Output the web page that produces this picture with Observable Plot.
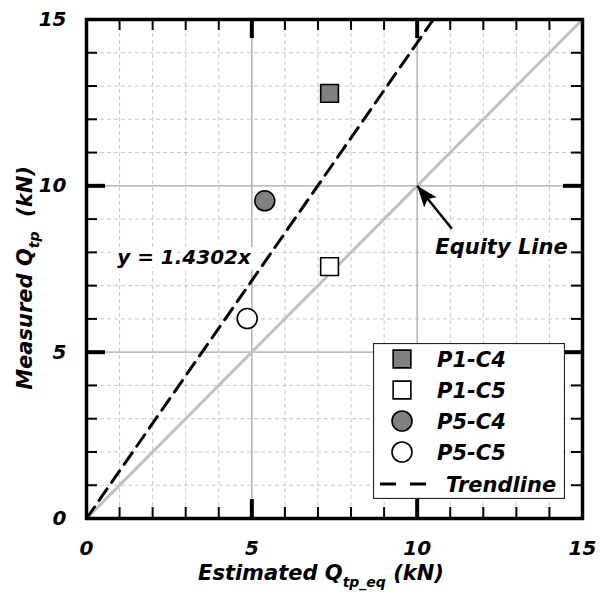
<!DOCTYPE html>
<html>
<head>
<meta charset="utf-8">
<script src="https://cdn.jsdelivr.net/npm/d3@7"></script>
<script src="https://cdn.jsdelivr.net/npm/@observablehq/plot@0.6"></script>
<style>
  body { margin: 0; background: #fff; }
  #chart { position: relative; width: 600px; height: 600px; font-family: "DejaVu Sans", sans-serif; }
  #legend { position: absolute; left: 373px; top: 343px; }
</style>
</head>
<body>
<div id="chart"></div>
<script>
// Specimen results: estimated vs measured tip resistance (kN)
const series    = ["P1-C4", "P1-C5", "P5-C4", "P5-C5"];
const estimated = [7.35, 7.35, 5.39, 4.86];
const measured  = [12.78, 7.57, 9.55, 6.01];

// Linear fit through the origin
const trendSlope = 1.4302;
const trendLabel = "y = 1.4302x";
const trendName = "Trendline";
const equityLabel = "Equity Line";

// Axis ticks
const axisMax = 15;
const majorTicks = [0, 5, 10, 15];
const innerMajor = [5, 10];
const minorTicks = [1, 2, 3, 4, 6, 7, 8, 9, 11, 12, 13, 14];

// Marker styling per series
const markerShape = {"P1-C4": "square", "P1-C5": "square", "P5-C4": "circle", "P5-C5": "circle"};
const markerFill  = {"P1-C4": "#808080", "P1-C5": "#ffffff", "P5-C4": "#808080", "P5-C5": "#ffffff"};

// Layout
const W = 600, H = 600, mL = 86, mR = 18, mT = 19, mB = 82;
const innerW = W - mL - mR, innerH = H - mT - mB;
const kx = innerW / axisMax, ky = innerH / axisMax;
const FONT = "DejaVu Sans, sans-serif";
const markerR = 10;

const points = series.map((s, i) => ({series: s, x: estimated[i], y: measured[i]}));
const equityLine = [{x: 0, y: 0}, {x: axisMax, y: axisMax}];
const trendLine = [{x: 0, y: 0}, {x: axisMax / trendSlope, y: axisMax}];

// Annotation anchors (data units)
const trendLabelAt = {x: 2.95, y: 7.85};
const equityLabelAt = {x: 12.55, y: 8.15};
const arrowTail = {x: 11.05, y: 8.71};
const arrowTip = {x: 10, y: 10};

// Filled arrowhead whose tip sits at the dot position, pointing up before rotation
const arrowHead = {
  draw(ctx) {
    ctx.moveTo(0, 0);
    ctx.lineTo(-8, 21);
    ctx.lineTo(0, 17);
    ctx.lineTo(8, 21);
    ctx.closePath();
  }
};
const adx = (arrowTip.x - arrowTail.x) * kx;
const ady = -(arrowTip.y - arrowTail.y) * ky;
const arrowAngle = Math.atan2(adx, -ady) * 180 / Math.PI;

const bold = {fontWeight: "bold", fontStyle: "italic", fill: "black"};

const marks = [
  // grid
  Plot.ruleX(minorTicks, {x: d => d, stroke: "#c8c8c8", strokeDasharray: "4,3", strokeWidth: 1}),
  Plot.ruleY(minorTicks, {y: d => d, stroke: "#c8c8c8", strokeDasharray: "4,3", strokeWidth: 1}),
  Plot.ruleX(innerMajor, {x: d => d, stroke: "#a6a6a6", strokeWidth: 1.3}),
  Plot.ruleY(innerMajor, {y: d => d, stroke: "#a6a6a6", strokeWidth: 1.3}),
  // annotation labels with white backing
  Plot.text([trendLabel], {x: trendLabelAt.x, y: trendLabelAt.y, text: d => d, fontSize: 20, ...bold,
    stroke: "white", strokeWidth: 12, paintOrder: "stroke"}),
  Plot.text([equityLabel], {x: equityLabelAt.x, y: equityLabelAt.y, text: d => d, fontSize: 21, ...bold,
    stroke: "white", strokeWidth: 10, paintOrder: "stroke"}),
  // equity and trend lines
  Plot.line(equityLine, {x: "x", y: "y", stroke: "#c0c0c0", strokeWidth: 3}),
  Plot.line(trendLine, {x: "x", y: "y", stroke: "black", strokeWidth: 3, strokeDasharray: "14,8"}),
  // arrow to the equity line
  Plot.link([arrowTail], {x1: "x", y1: "y", x2: arrowTip.x, y2: arrowTip.y, stroke: "black", strokeWidth: 2.5}),
  Plot.dot([arrowTip], {x: "x", y: "y", symbol: arrowHead, fill: "black", stroke: "none", rotate: arrowAngle}),
  // data points
  ...points.map(p => Plot.dot([p], {x: "x", y: "y", symbol: markerShape[p.series], r: markerR,
    fill: markerFill[p.series], stroke: "black", strokeWidth: 1.6})),
  // frame
  Plot.frame({stroke: "black", strokeWidth: 3.5}),
  // inward ticks on all four sides
  Plot.tickX(minorTicks, {x: d => d, insetTop: innerH - 11, strokeWidth: 2}),
  Plot.tickX(minorTicks, {x: d => d, insetBottom: innerH - 11, strokeWidth: 2}),
  Plot.tickY(minorTicks, {y: d => d, insetRight: innerW - 11, strokeWidth: 2}),
  Plot.tickY(minorTicks, {y: d => d, insetLeft: innerW - 11, strokeWidth: 2}),
  Plot.tickX(innerMajor, {x: d => d, insetTop: innerH - 19, strokeWidth: 4}),
  Plot.tickX(innerMajor, {x: d => d, insetBottom: innerH - 19, strokeWidth: 4}),
  Plot.tickY(innerMajor, {y: d => d, insetRight: innerW - 19, strokeWidth: 4}),
  Plot.tickY(innerMajor, {y: d => d, insetLeft: innerW - 19, strokeWidth: 4}),
  // tick labels
  Plot.axisX(majorTicks, {anchor: "bottom", tickSize: 0, tickPadding: 22, label: null, tickFormat: d => d, fontSize: 20, ...bold}),
  Plot.axisY(majorTicks, {anchor: "left", tickSize: 0, tickPadding: 20, label: null, tickFormat: d => d, fontSize: 20, ...bold})
];

const svg = Plot.plot({
  width: W, height: H,
  marginLeft: mL, marginRight: mR, marginTop: mT, marginBottom: mB,
  x: {domain: [0, axisMax]},
  y: {domain: [0, axisMax]},
  style: {fontFamily: FONT, background: "white", color: "black"},
  marks
});

// Axis titles with subscripts
const s = d3.select(svg);
const xTitle = s.append("text")
  .attr("x", 321).attr("y", 580)
  .attr("text-anchor", "middle")
  .attr("font-size", 21).attr("font-weight", "bold").attr("font-style", "italic")
  .attr("fill", "black");
xTitle.append("tspan").text("Estimated Q");
xTitle.append("tspan").attr("font-size", 14).attr("dy", 7).text("tp_eq");
xTitle.append("tspan").attr("dy", -7).text(" (kN)");

const yTitle = s.append("text")
  .attr("transform", "translate(32,278) rotate(-90)")
  .attr("text-anchor", "middle")
  .attr("font-size", 21).attr("font-weight", "bold").attr("font-style", "italic")
  .attr("fill", "black")
  .attr("xml:space", "preserve").style("white-space", "pre");
yTitle.append("tspan").text("Measured Q");
yTitle.append("tspan").attr("font-size", 14).attr("dy", 7).text("tp");
yTitle.append("tspan").attr("dy", -7).text("  (kN)");

const chart = document.getElementById("chart");
chart.appendChild(svg);

// Legend box
const legW = 192, legH = 156, rowY = [16, 47, 78, 109, 141];
const leg = d3.select(chart).append("svg").attr("id", "legend")
  .attr("width", legW).attr("height", legH)
  .style("font-family", FONT);
leg.append("rect").attr("x", 0.5).attr("y", 0.5).attr("width", legW - 1).attr("height", legH - 1)
  .attr("fill", "white").attr("stroke", "#222").attr("stroke-width", 1.2);
const symSize = markerR * markerR * Math.PI;
series.forEach((name, i) => {
  const g = leg.append("g").attr("transform", `translate(29,${rowY[i]})`);
  g.append("path")
    .attr("d", d3.symbol(markerShape[name] === "square" ? d3.symbolSquare : d3.symbolCircle, symSize)())
    .attr("fill", markerFill[name]).attr("stroke", "black").attr("stroke-width", 1.6);
  leg.append("text").attr("x", 64).attr("y", rowY[i]).attr("dy", "0.36em")
    .attr("font-size", 21).attr("font-weight", "bold").attr("font-style", "italic").text(name);
});
const tr = rowY[4];
leg.append("line").attr("x1", 7).attr("x2", 55).attr("y1", tr).attr("y2", tr)
  .attr("stroke", "black").attr("stroke-width", 3).attr("stroke-dasharray", "16,14");
leg.append("text").attr("x", 73).attr("y", tr).attr("dy", "0.36em")
  .attr("font-size", 21).attr("font-weight", "bold").attr("font-style", "italic").text(trendName);
</script>
</body>
</html>
